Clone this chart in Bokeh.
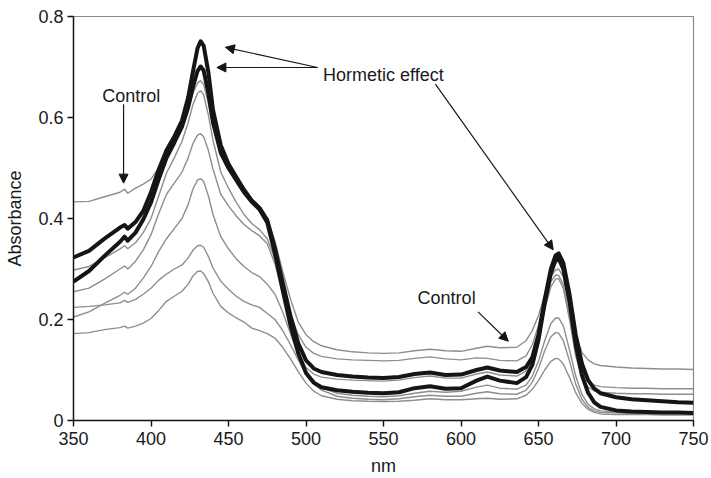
from bokeh.plotting import figure
from bokeh.models import Range1d, FixedTicker, Arrow, NormalHead, Label
from bokeh.embed import file_html
from bokeh.resources import INLINE

# Wavelength grid (nm) shared by every spectrum
nm = [350, 360, 370, 380,
      383, 385, 390, 395, 400,
      405, 410, 415, 420, 424,
      427, 430, 432, 434, 437,
      440, 445, 450, 455, 460,
      465, 470, 475, 480, 485,
      490, 495, 500, 505, 510,
      520, 530, 540, 550, 560,
      570, 580, 590, 600, 610,
      617, 625, 636, 642, 646,
      650, 654, 658, 661, 663,
      666, 670, 674, 678, 682,
      686, 690, 700, 710, 720,
      730, 740, 750]

# Absorbance spectra
control = [0.433, 0.434, 0.443, 0.452,
           0.458, 0.450, 0.460, 0.468, 0.478,
           0.500, 0.530, 0.555, 0.585, 0.618,
           0.648, 0.668, 0.673, 0.665, 0.628,
           0.582, 0.528, 0.502, 0.478, 0.455,
           0.436, 0.420, 0.400, 0.355, 0.295,
           0.240, 0.195, 0.170, 0.156, 0.148,
           0.140, 0.136, 0.134, 0.133, 0.134,
           0.138, 0.141, 0.138, 0.137, 0.143,
           0.147, 0.144, 0.145, 0.158, 0.178,
           0.208, 0.248, 0.285, 0.298, 0.300,
           0.285, 0.230, 0.172, 0.135, 0.120,
           0.112, 0.109, 0.106, 0.104, 0.103,
           0.102, 0.102, 0.101]

dose_1 = [0.298, 0.305, 0.322, 0.340,
          0.346, 0.340, 0.352, 0.372, 0.400,
          0.445, 0.490, 0.520, 0.553, 0.590,
          0.625, 0.648, 0.653, 0.645, 0.605,
          0.555, 0.492, 0.460, 0.432, 0.408,
          0.390, 0.378, 0.360, 0.320, 0.265,
          0.210, 0.170, 0.145, 0.133, 0.127,
          0.122, 0.120, 0.119, 0.118, 0.119,
          0.123, 0.126, 0.122, 0.120, 0.124,
          0.123, 0.119, 0.118, 0.128, 0.150,
          0.188, 0.235, 0.275, 0.288, 0.287,
          0.270, 0.205, 0.140, 0.098, 0.078,
          0.070, 0.067, 0.065, 0.064, 0.064,
          0.063, 0.063, 0.063]

dose_2 = [0.255, 0.262, 0.280, 0.300,
          0.306, 0.300, 0.315, 0.338, 0.368,
          0.410, 0.448, 0.470, 0.492, 0.520,
          0.548, 0.565, 0.568, 0.562, 0.535,
          0.498, 0.448, 0.425, 0.405, 0.388,
          0.376, 0.366, 0.350, 0.310, 0.250,
          0.185, 0.135, 0.105, 0.092, 0.086,
          0.082, 0.080, 0.079, 0.078, 0.080,
          0.085, 0.088, 0.084, 0.084, 0.092,
          0.096, 0.090, 0.088, 0.098, 0.120,
          0.160, 0.220, 0.265, 0.280, 0.281,
          0.262, 0.200, 0.128, 0.085, 0.066,
          0.059, 0.056, 0.054, 0.053, 0.053,
          0.052, 0.052, 0.052]

dose_3 = [0.205, 0.215, 0.232, 0.248,
          0.254, 0.250, 0.262, 0.282, 0.305,
          0.335, 0.360, 0.380, 0.400, 0.428,
          0.458, 0.476, 0.479, 0.473, 0.445,
          0.408, 0.364, 0.340, 0.320, 0.305,
          0.293, 0.285, 0.270, 0.250, 0.215,
          0.172, 0.130, 0.098, 0.077, 0.065,
          0.054, 0.050, 0.048, 0.047, 0.049,
          0.054, 0.058, 0.056, 0.058, 0.066,
          0.070, 0.064, 0.062, 0.070, 0.088,
          0.118, 0.158, 0.192, 0.203, 0.203,
          0.188, 0.140, 0.088, 0.052, 0.032,
          0.023, 0.019, 0.017, 0.016, 0.016,
          0.016, 0.016, 0.016]

dose_4 = [0.224, 0.226, 0.229, 0.233,
          0.238, 0.234, 0.240, 0.250, 0.262,
          0.278, 0.290, 0.300, 0.308, 0.322,
          0.337, 0.346, 0.347, 0.343, 0.325,
          0.302, 0.276, 0.260, 0.246, 0.236,
          0.229, 0.224, 0.212, 0.200, 0.178,
          0.150, 0.120, 0.092, 0.072, 0.060,
          0.048, 0.044, 0.042, 0.041, 0.043,
          0.047, 0.050, 0.048, 0.048, 0.054,
          0.057, 0.053, 0.052, 0.060, 0.076,
          0.103, 0.138, 0.166, 0.174, 0.173,
          0.158, 0.118, 0.072, 0.042, 0.026,
          0.019, 0.016, 0.015, 0.014, 0.014,
          0.014, 0.014, 0.014]

dose_5 = [0.172, 0.174, 0.180, 0.184,
          0.187, 0.183, 0.187, 0.193, 0.202,
          0.218, 0.236, 0.246, 0.256, 0.270,
          0.286, 0.295, 0.296, 0.291, 0.275,
          0.252, 0.226, 0.213, 0.203, 0.195,
          0.183, 0.178, 0.172, 0.163, 0.145,
          0.122, 0.097, 0.074, 0.058, 0.049,
          0.042, 0.039, 0.038, 0.0375, 0.038,
          0.040, 0.043, 0.041, 0.041, 0.043,
          0.044, 0.042, 0.043, 0.050, 0.062,
          0.079, 0.100, 0.117, 0.123, 0.122,
          0.112, 0.085, 0.055, 0.034, 0.022,
          0.016, 0.013, 0.012, 0.012, 0.012,
          0.011, 0.011, 0.011]

hormetic_high = [0.323, 0.336, 0.360, 0.382,
                 0.387, 0.380, 0.393, 0.415, 0.452,
                 0.497, 0.535, 0.562, 0.594, 0.640,
                 0.690, 0.737, 0.751, 0.742, 0.690,
                 0.615, 0.545, 0.508, 0.482, 0.457,
                 0.436, 0.421, 0.397, 0.340, 0.273,
                 0.207, 0.153, 0.119, 0.103, 0.096,
                 0.090, 0.087, 0.085, 0.084, 0.086,
                 0.092, 0.095, 0.090, 0.091, 0.100,
                 0.105, 0.099, 0.096, 0.106, 0.125,
                 0.170, 0.240, 0.300, 0.327, 0.331,
                 0.312, 0.250, 0.170, 0.113, 0.080,
                 0.063, 0.054, 0.046, 0.042, 0.040,
                 0.038, 0.036, 0.035]

hormetic_low = [0.275, 0.296, 0.326, 0.354,
                0.364, 0.356, 0.372, 0.398, 0.432,
                0.478, 0.520, 0.550, 0.582, 0.620,
                0.660, 0.692, 0.701, 0.693, 0.648,
                0.590, 0.530, 0.500, 0.476, 0.452,
                0.433, 0.418, 0.392, 0.330, 0.258,
                0.188, 0.133, 0.094, 0.075, 0.066,
                0.060, 0.057, 0.055, 0.054, 0.056,
                0.064, 0.068, 0.063, 0.064, 0.079,
                0.087, 0.079, 0.074, 0.086, 0.110,
                0.160, 0.232, 0.292, 0.317, 0.321,
                0.300, 0.235, 0.150, 0.090, 0.055,
                0.036, 0.027, 0.020, 0.018, 0.017,
                0.016, 0.016, 0.015]

x_ticks = [350, 400, 450, 500, 550, 600, 650, 700, 750]
y_ticks = [0, 0.2, 0.4, 0.6, 0.8]
y_tick_labels = ["0", "0.2", "0.4", "0.6", "0.8"]

FONT = "Liberation Sans"
FONT_SIZE = "18px"
TEXT = "#1a1a1a"
GREY = "#8e8e8e"
DARK = "#151515"

p = figure(width=711, height=478, output_backend="svg", toolbar_location=None,
           x_range=Range1d(350, 750), y_range=Range1d(0, 0.8),
           min_border_left=73, min_border_right=18,
           min_border_top=16, min_border_bottom=57)

p.background_fill_color = "white"
p.border_fill_color = "white"
p.outline_line_color = "#8a8a8a"
p.outline_line_width = 1.2
p.xgrid.visible = False
p.ygrid.visible = False

for ax in (p.xaxis, p.yaxis):
    ax.axis_line_color = "#111111"
    ax.axis_line_width = 1.4
    ax.major_tick_line_color = "#111111"
    ax.major_tick_line_width = 1.4
    ax.major_tick_in = 0
    ax.major_tick_out = 6
    ax.minor_tick_line_color = None
    ax.major_label_text_font = FONT
    ax.major_label_text_font_size = FONT_SIZE
    ax.major_label_text_color = TEXT
    ax.axis_label_text_font = FONT
    ax.axis_label_text_font_size = FONT_SIZE
    ax.axis_label_text_font_style = "normal"
    ax.axis_label_text_color = TEXT

p.xaxis.ticker = FixedTicker(ticks=x_ticks)
p.yaxis.ticker = FixedTicker(ticks=y_ticks)
p.yaxis.major_label_overrides = {t: s for t, s in zip(y_ticks, y_tick_labels)}
p.xaxis.axis_label = "nm"
p.yaxis.axis_label = "Absorbance"
p.xaxis.major_label_standoff = 5
p.yaxis.major_label_standoff = 4
p.xaxis.axis_label_standoff = 8
p.yaxis.axis_label_standoff = 10

# Treatment spectra in grey, the two hormetic spectra drawn heavy on top
for series in (control, dose_1, dose_2, dose_3, dose_4, dose_5):
    p.line(nm, series, line_color=GREY, line_width=1.4)
for series in (hormetic_low, hormetic_high):
    p.line(nm, series, line_color=DARK, line_width=4, line_join="round")


def pointer(x0, y0, x1, y1):
    p.add_layout(Arrow(x_start=x0, y_start=y0, x_end=x1, y_end=y1,
                       line_color=DARK, line_width=1.2,
                       end=NormalHead(size=9, fill_color=DARK, line_color=DARK)))


def note(x, y, text):
    p.add_layout(Label(x=x, y=y, text=text, text_font=FONT, text_font_size=FONT_SIZE,
                       text_color=TEXT, text_align="left", text_baseline="middle"))


note(368.5, 0.643, "Control")
pointer(382.3, 0.626, 382.3, 0.470)

note(511.0, 0.684, "Hormetic effect")
pointer(507.5, 0.699, 448.0, 0.739)
pointer(507.5, 0.699, 442.5, 0.699)
pointer(583.5, 0.666, 659.5, 0.338)

note(572.0, 0.242, "Control")
pointer(611.0, 0.215, 630.5, 0.157)

open("out.html", "w").write(file_html(p, INLINE))
